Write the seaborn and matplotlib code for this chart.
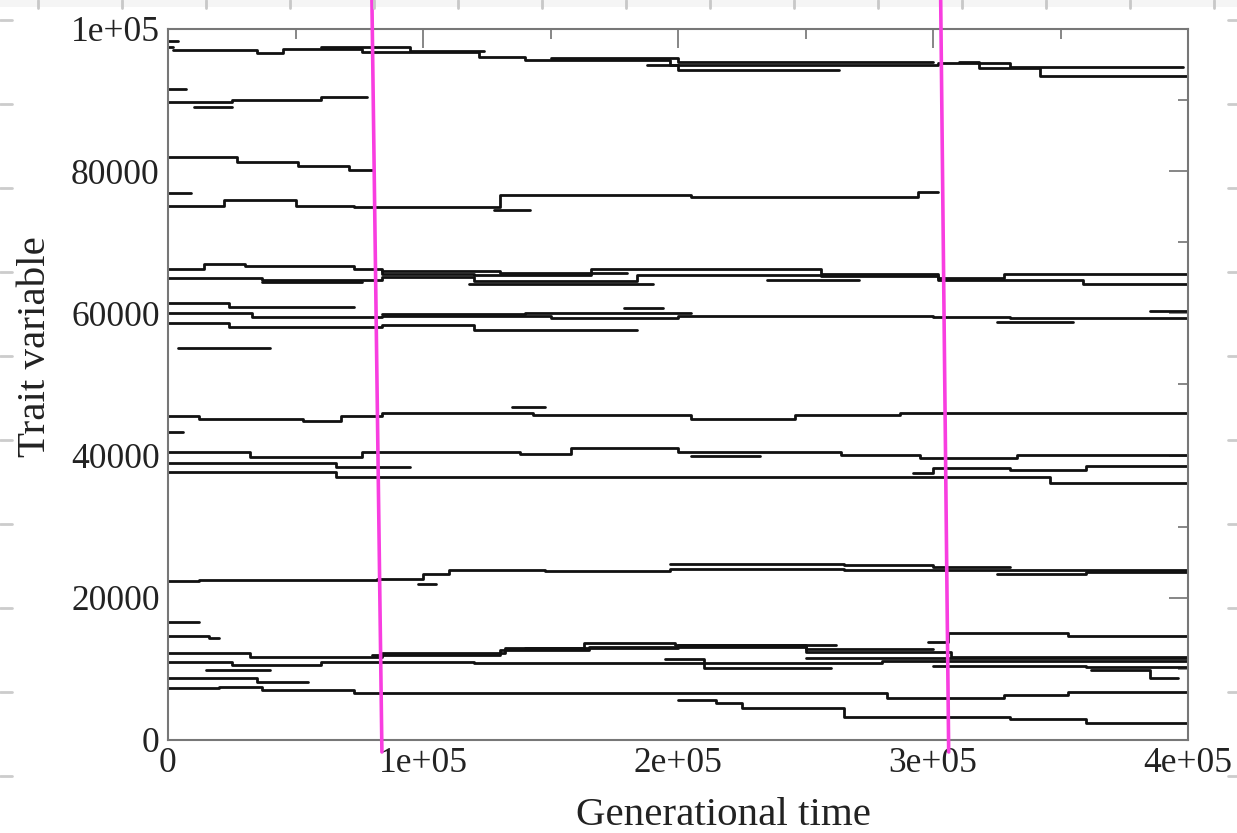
import matplotlib
matplotlib.use("Agg")
import matplotlib.pyplot as plt
import numpy as np
import pandas as pd
import seaborn as sns
from matplotlib.lines import Line2D
from matplotlib.patches import Rectangle

# Lineages: breakpoints in thousands of generations, and the trait level
# (in thousands) held over each interval between consecutive breakpoints.
top_stub_a = ([0, 4], [98.3])
top_stub_b = ([0, 2], [97.5])
top_main = ([2, 35, 45, 76, 122, 140, 197, 302, 330, 398],
            [97.0, 96.6, 97.2, 96.7, 96.1, 95.6, 94.9, 95.2, 94.6])
top_side = ([60, 95, 124], [97.4, 96.9])
top_mid = ([150, 200, 300], [95.9, 95.3])
top_low = ([188, 200, 263], [94.9, 94.2])
top_right = ([310, 318, 342, 400], [95.3, 94.5, 93.4])

ninety_stub = ([0, 7], [91.5])
ninety_main = ([0, 25, 60, 78], [89.8, 90.0, 90.4])
ninety_dip = ([10, 25], [89.0])

eighty_main = ([0, 27, 51, 71, 80], [82.0, 81.3, 80.7, 80.1])
eighty_stub = ([0, 9], [77.0])
seventy_main = ([0, 22, 50, 73, 130, 153, 205, 294, 302],
                [75.1, 75.9, 75.1, 75.0, 76.6, 76.7, 76.4, 77.1])
seventy_low = ([128, 142], [74.5])

sixty6_top = ([0, 14, 30, 73, 84, 120, 166, 230, 256, 302, 328, 400],
              [66.3, 67.0, 66.6, 66.3, 65.6, 65.4, 66.3, 66.2, 65.6, 65.0, 65.6])
sixty5_mid = ([0, 37, 84, 120, 184, 256, 302, 359, 400],
              [65.0, 64.7, 65.1, 64.5, 65.4, 65.2, 64.7, 64.2])
sixty5_side = ([84, 130, 180], [65.9, 65.7])
sixty4_a = ([37, 76], [64.4])
sixty4_b = ([118, 190], [64.2])
sixty4_c = ([235, 271], [64.7])

sixty1_top = ([0, 24, 73], [61.4, 60.9])
fifty9_main = ([0, 33, 84, 150, 200, 300, 330, 400],
               [60.0, 59.5, 59.7, 59.4, 59.6, 59.5, 59.3])
fifty9_side = ([84, 140, 205], [59.9, 60.1])
fifty9_a = ([179, 194], [60.7])
fifty9_b = ([325, 355], [58.8])
fifty9_c = ([385, 400], [60.4])
fifty8_low = ([0, 24, 84, 120, 184], [58.6, 58.1, 58.3, 57.6])
fifty5_stub = ([4, 40], [55.2])

forty5_main = ([0, 12, 53, 68, 84, 143, 205, 246, 287, 400],
               [45.5, 45.2, 44.8, 45.6, 46.0, 45.7, 45.2, 45.7, 46.0])
forty3_stub = ([0, 6], [43.3])
forty7_side = ([135, 148], [46.8])

forty_main = ([0, 32, 76, 138, 158, 200, 264, 295, 333, 400],
              [40.5, 39.8, 40.5, 40.2, 41.1, 40.5, 40.1, 39.6, 40.1])
forty_side = ([205, 232], [39.9])
thirty9_main = ([0, 66, 95], [38.9, 38.4])
thirty7_main = ([0, 66, 346, 400], [37.7, 37.0, 36.1])
thirty8_right = ([292, 300, 330, 360, 400], [37.5, 38.2, 38.0, 38.6])

twenty3_main = ([0, 12, 82, 100, 110, 148, 197, 265, 400],
                [22.3, 22.5, 22.7, 23.3, 23.9, 23.8, 24.1, 23.9])
twenty4_up = ([197, 265, 300, 330], [24.8, 24.6, 24.3])
twenty3_low = ([325, 360, 400], [23.4, 23.6])
twenty2_dip = ([98, 105], [21.9])

low17_stub = ([0, 12], [16.6])
low15_stub = ([0, 16, 20], [14.6, 14.3])
low12_main = ([0, 32, 84, 132, 163, 199, 250, 307, 400],
              [12.3, 11.7, 12.3, 12.9, 13.6, 13.4, 12.4, 11.7])
low12_side = ([80, 130, 165, 250, 300], [12.0, 12.6, 13.1, 12.8])
low13_side = ([140, 200, 262], [13.0, 13.3])
low11_main = ([0, 25, 60, 120, 200, 280, 400],
              [11.0, 10.6, 11.0, 10.9, 10.8, 11.1])
low10_a = ([15, 40], [9.8])
low10_b = ([195, 210, 260], [11.4, 10.1])
low11_right = ([250, 400], [11.5])
low10_right = ([300, 360, 400], [10.4, 10.2])
low15_right = ([298, 306, 353, 400], [13.8, 15.0, 14.6])
low9_right = ([362, 385, 396], [9.8, 8.7])
low8_stub = ([0, 35, 55], [8.7, 8.2])
low7_main = ([0, 20, 37, 73, 282, 328, 353, 400],
             [7.3, 7.5, 7.0, 6.6, 5.9, 6.3, 6.8])
low3_drop = ([200, 215, 225, 265, 330, 360, 400],
             [5.6, 5.2, 4.5, 3.3, 3.0, 2.4])

x_ticks = [0, 100000, 200000, 300000, 400000]
x_tick_labels = ["0", "1e+05", "2e+05", "3e+05", "4e+05"]
y_ticks = [0, 20000, 40000, 60000, 80000, 100000]
y_tick_labels = ["0", "20000", "40000", "60000", "80000", "1e+05"]

lineages = {
    "top_stub_a": top_stub_a, "top_stub_b": top_stub_b, "top_main": top_main,
    "top_side": top_side, "top_mid": top_mid, "top_low": top_low,
    "top_right": top_right,
    "ninety_stub": ninety_stub, "ninety_main": ninety_main, "ninety_dip": ninety_dip,
    "eighty_main": eighty_main, "eighty_stub": eighty_stub,
    "seventy_main": seventy_main, "seventy_low": seventy_low,
    "sixty6_top": sixty6_top, "sixty5_mid": sixty5_mid, "sixty5_side": sixty5_side,
    "sixty4_a": sixty4_a, "sixty4_b": sixty4_b, "sixty4_c": sixty4_c,
    "sixty1_top": sixty1_top, "fifty9_main": fifty9_main, "fifty9_side": fifty9_side,
    "fifty9_a": fifty9_a, "fifty9_b": fifty9_b, "fifty9_c": fifty9_c,
    "fifty8_low": fifty8_low, "fifty5_stub": fifty5_stub,
    "forty5_main": forty5_main, "forty3_stub": forty3_stub, "forty7_side": forty7_side,
    "forty_main": forty_main, "forty_side": forty_side, "thirty9_main": thirty9_main,
    "thirty7_main": thirty7_main, "thirty8_right": thirty8_right,
    "twenty3_main": twenty3_main, "twenty4_up": twenty4_up,
    "twenty3_low": twenty3_low, "twenty2_dip": twenty2_dip,
    "low17_stub": low17_stub, "low15_stub": low15_stub, "low12_main": low12_main,
    "low12_side": low12_side, "low13_side": low13_side, "low11_main": low11_main,
    "low10_a": low10_a, "low10_b": low10_b, "low11_right": low11_right,
    "low10_right": low10_right, "low15_right": low15_right,
    "low9_right": low9_right, "low8_stub": low8_stub, "low7_main": low7_main,
    "low3_drop": low3_drop,
}

rows = []
for name, (gens, levels) in lineages.items():
    held = list(levels) + [levels[-1]]
    for g, lv in zip(gens, held):
        rows.append({"lineage": name, "gen": g * 1000.0, "trait": lv * 1000.0})
df = pd.DataFrame(rows)

sns.set_theme(style="white")
plt.rcParams["font.family"] = ["Liberation Serif", "DejaVu Serif"]

fig = plt.figure(figsize=(12.37, 8.33), dpi=100)
fig.patch.set_facecolor("white")

# faint slide guide marks around the border
W, H = 1237.0, 833.0
fig.add_artist(Rectangle((0, 1 - 7 / H), 1, 7 / H, transform=fig.transFigure,
                         facecolor="#f5f5f5", edgecolor="none", zorder=0))
for px in range(38, 1237, 84):
    fig.add_artist(Line2D([px / W, px / W], [1, 1 - 8 / H], transform=fig.transFigure,
                          color="#c8c8c8", lw=2))
for py in range(20, 833, 84):
    fig.add_artist(Line2D([0, 12 / W], [1 - py / H, 1 - py / H], transform=fig.transFigure,
                          color="#cccccc", lw=2))
    fig.add_artist(Line2D([1228 / W, 1], [1 - py / H, 1 - py / H], transform=fig.transFigure,
                          color="#cccccc", lw=2))

ax = fig.add_axes([168 / W, 93 / H, 1020 / W, 711 / H])
ax.set_facecolor("white")

sns.lineplot(data=df, x="gen", y="trait", units="lineage", estimator=None,
             sort=False, drawstyle="steps-post", color="#111111", lw=2.0,
             legend=False, ax=ax)

# two reference lines marking chosen generations
ax.plot([79968, 83888], [104044, -1687], color="#f83ee0", lw=2.6,
        clip_on=False, zorder=5)
ax.plot([303016, 306152], [104044, -1687], color="#f83ee0", lw=2.6,
        clip_on=False, zorder=5)

ax.set_xlim(0, 400000)
ax.set_ylim(0, 100000)
ax.set_xticks(x_ticks)
ax.set_xticklabels(x_tick_labels)
ax.set_yticks(y_ticks)
ax.set_yticklabels(y_tick_labels)
ax.set_xticks(np.arange(50000, 400000, 100000), minor=True)
ax.set_yticks(np.arange(10000, 100000, 20000), minor=True)
ax.tick_params(which="both", direction="in", top=True, right=True,
               color="#666666", width=1.1, labelsize=25.5, labelcolor="#222222")
ax.tick_params(which="major", length=13.7)
ax.tick_params(which="minor", length=7.2)
ax.tick_params(axis="y", pad=6)
ax.tick_params(axis="x", pad=5)
for s in ax.spines.values():
    s.set_color("#777777")
    s.set_linewidth(1.5)

ax.set_xlabel("Generational time", fontsize=29.5, color="#222222")
ax.set_ylabel("Trait variable", fontsize=29.5, color="#222222")
ax.xaxis.label.set_va("center")
ax.yaxis.label.set_va("center")
ax.xaxis.set_label_coords(0.545, -0.106)
ax.yaxis.set_label_coords(-0.130, 0.553)

fig.savefig("out.png", dpi=100, facecolor="white")
